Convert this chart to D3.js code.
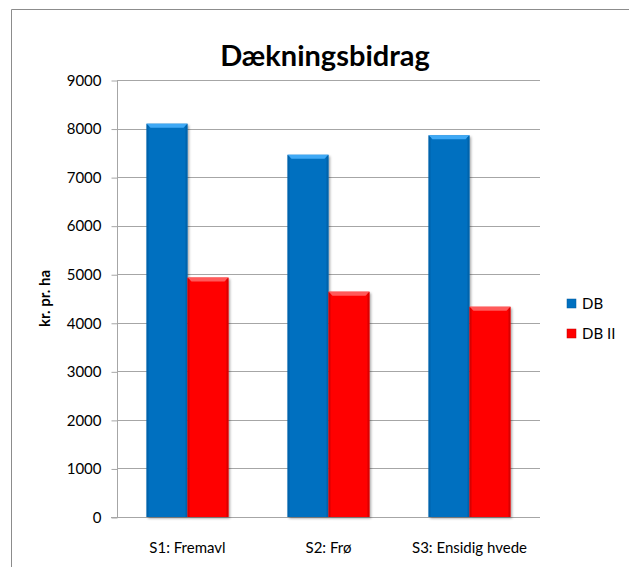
<!DOCTYPE html>
<html><head><meta charset="utf-8">
<script src="https://cdn.jsdelivr.net/npm/d3@7"></script>
<style>body{margin:0;background:#fff;}svg{display:block;}</style>
</head><body>
<script>
const categories = ["S1: Fremavl", "S2: Frø", "S3: Ensidig hvede"];
const seriesNames = ["DB", "DB II"];
const dbValues = [8100, 7460, 7860];
const db2Values = [4930, 4640, 4330];
const yTicks = [0, 1000, 2000, 3000, 4000, 5000, 6000, 7000, 8000, 9000];
const colors = ["#0070C0", "#FF0000"];
const colorsLight = ["#3FA9F5", "#FF5A5A"];
const colorsDark = ["#005A9C", "#C00000"];

const W = 629, H = 567;
const svg = d3.select("body").append("svg").attr("width", W).attr("height", H);
const font = "Lato, 'Open Sans', sans-serif";

// frame
svg.append("path").attr("d", `M11.5,${H} L11.5,9.5 L${W},9.5`).attr("fill","none").attr("stroke","#8c8c8c").attr("stroke-width",1);

const L = 117, R = 540, T = 80, B = 517;
const y = d3.scaleLinear().domain([0, 9000]).range([B, T]);
const x0 = d3.scaleBand().domain(categories).range([L, R]);
const x1 = d3.scaleBand().domain(seriesNames).range([0, x0.bandwidth()]).paddingOuter(0.72).paddingInner(0);

// gridlines
svg.append("g").selectAll("line").data(yTicks.filter(d => d > 0)).join("line")
  .attr("x1", L).attr("x2", R).attr("y1", d => Math.round(y(d)) + 0.5).attr("y2", d => Math.round(y(d)) + 0.5)
  .attr("stroke", "#a6a6a6").attr("stroke-width", 1);

// y axis
const yAxis = d3.axisLeft(y).tickValues(yTicks).tickSize(6).tickPadding(10).tickFormat(d3.format("d"));
const gy = svg.append("g").attr("transform", `translate(${L + 0.5},0.5)`).call(yAxis);
gy.select(".domain").attr("stroke", "#a6a6a6").attr("d", `M0,${T} V${B}`);
gy.selectAll(".tick line").attr("stroke", "#a6a6a6");
gy.selectAll(".tick text").attr("font-family", font).attr("font-size", 15).attr("fill", "#000");

// bottom axis line
svg.append("line").attr("x1", L - 6).attr("x2", R).attr("y1", B + 0.5).attr("y2", B + 0.5).attr("stroke", "#a6a6a6");

// defs for shadow
const defs = svg.append("defs");
const f = defs.append("filter").attr("id", "sh").attr("x", "-20%").attr("y", "-5%").attr("width", "150%").attr("height", "115%");
f.append("feDropShadow").attr("dx", 1.5).attr("dy", 1.5).attr("stdDeviation", 1.2).attr("flood-color", "#000").attr("flood-opacity", 0.35);

const data = categories.map((c, i) => ({ c, vals: [dbValues[i], db2Values[i]] }));
const groups = svg.append("g").selectAll("g").data(data).join("g")
  .attr("transform", d => `translate(${x0(d.c)},0)`);

groups.each(function(d) {
  const g = d3.select(this);
  d.vals.forEach((v, si) => {
    const bx = x1(seriesNames[si]), bw = x1.bandwidth();
    const by = y(v), bh = B - by;
    g.append("rect").attr("x", bx).attr("y", by).attr("width", bw).attr("height", bh)
      .attr("fill", colors[si]).attr("filter", "url(#sh)");
    const bev = 4;
    g.append("path").attr("d", `M${bx},${by} L${bx + bw},${by} L${bx + bw - bev},${by + bev} L${bx + bev},${by + bev} Z`)
      .attr("fill", colorsLight[si]);
    g.append("path").attr("d", `M${bx},${by} L${bx + 2},${by + 2} L${bx + 2},${B} L${bx},${B} Z`).attr("fill", colorsDark[si]).attr("opacity", 0.6);
    g.append("path").attr("d", `M${bx + bw},${by} L${bx + bw - 2},${by + 2} L${bx + bw - 2},${B} L${bx + bw},${B} Z`).attr("fill", colorsDark[si]).attr("opacity", 0.6);
  });
});

// x labels
svg.append("g").selectAll("text").data(categories).join("text")
  .attr("x", d => x0(d) + x0.bandwidth() / 2).attr("y", 553)
  .attr("text-anchor", "middle").attr("font-family", font).attr("font-size", 15).attr("fill", "#000")
  .text(d => d);

// title
svg.append("text").attr("x", 325).attr("y", 66).attr("text-anchor", "middle")
  .attr("font-family", font).attr("font-weight", "bold").attr("font-size", 29).attr("fill", "#000")
  .text("Dækningsbidrag");

// y title
svg.append("text").attr("transform", `translate(50,${(T + B) / 2}) rotate(-90)`).attr("text-anchor", "middle")
  .attr("font-family", font).attr("font-weight", "bold").attr("font-size", 15).attr("fill", "#000")
  .text("kr. pr. ha");

// legend
const lg = svg.append("g").selectAll("g").data(seriesNames).join("g")
  .attr("transform", (d, i) => `translate(567,${299 + i * 30})`);
lg.append("rect").attr("width", 9).attr("height", 9).attr("fill", (d, i) => colors[i]).attr("stroke", (d,i)=>colorsDark[i]).attr("stroke-width",0.5);
lg.append("text").attr("x", 15).attr("y", 10).attr("font-family", font).attr("font-size", 15).attr("fill", "#000").text(d => d);
</script>
</body></html>
